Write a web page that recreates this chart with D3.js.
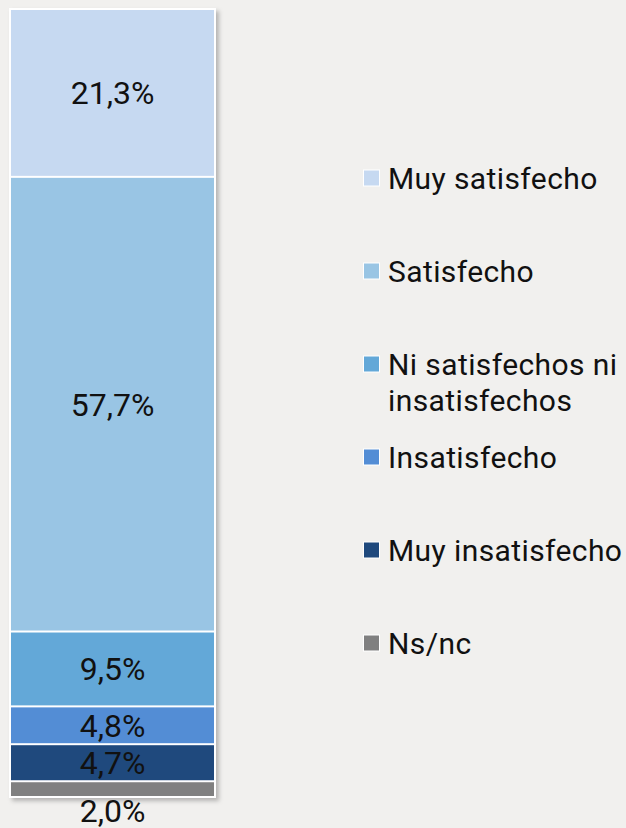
<!DOCTYPE html>
<html lang="es">
  <head>
    <meta charset="utf-8">
    <title>Satisfacción</title>
    <script src="https://d3js.org/d3.v7.min.js"></script>
    <style>
      body { margin: 0; background: #f1f0ee; }
      text { font-family: Roboto, "DejaVu Sans", sans-serif; fill: #111; }
    </style>
  </head>
  <body>
    <div id="container"></div>
    <script>
      const width = 626, height = 828;

      // bottom to top, as stacked in the bar
      const categories = ["Ns/nc", "Muy insatisfecho", "Insatisfecho", "Ni satisfechos ni insatisfechos", "Satisfecho", "Muy satisfecho"];
      const values = [2.0, 4.7, 4.8, 9.5, 57.7, 21.3];
      const labels = ["2,0%", "4,7%", "4,8%", "9,5%", "57,7%", "21,3%"];
      const colors = ["#808080", "#1f497d", "#538dd5", "#63a8d8", "#99c5e4", "#c6d9f1"];
      // legend reads top to bottom
      const legendLines = {
        "Muy satisfecho": ["Muy satisfecho"],
        "Satisfecho": ["Satisfecho"],
        "Ni satisfechos ni insatisfechos": ["Ni satisfechos ni", "insatisfechos"],
        "Insatisfecho": ["Insatisfecho"],
        "Muy insatisfecho": ["Muy insatisfecho"],
        "Ns/nc": ["Ns/nc"]
      };

      const bar = {left: 9, right: 216, top: 8, bottom: 798};

      let acc = 0;
      const segs = values.map((v, i) => {
        const s = {key: categories[i], v0: acc, v1: acc + v, label: labels[i], color: colors[i]};
        acc += v;
        return s;
      });

      const y = d3.scaleLinear()
        .domain([0, 100])
        .range([bar.bottom - 1, bar.top + 1]);
      const x = d3.scaleBand()
        .domain(["all"])
        .range([bar.left + 2, bar.right - 2])
        .padding(0);

      const legendY = d3.scalePoint()
        .domain(categories.slice().reverse())
        .range([178, 643]);

      const svg = d3.create("svg")
          .attr("width", width)
          .attr("height", height)
          .attr("viewBox", [0, 0, width, height]);

      const defs = svg.append("defs");
      defs.append("filter")
          .attr("id", "shadow")
          .attr("x", "-10%").attr("y", "-10%")
          .attr("width", "130%").attr("height", "120%")
        .append("feDropShadow")
          .attr("dx", 3).attr("dy", 3)
          .attr("stdDeviation", 2)
          .attr("flood-color", "#000")
          .attr("flood-opacity", 0.25);

      svg.append("rect")
          .attr("x", bar.left)
          .attr("y", bar.top)
          .attr("width", bar.right - bar.left)
          .attr("height", bar.bottom - bar.top)
          .attr("fill", "#fff")
          .attr("filter", "url(#shadow)");

      svg.append("g")
        .selectAll("rect")
        .data(segs)
        .join("rect")
          .attr("x", x("all"))
          .attr("width", x.bandwidth())
          .attr("y", d => y(d.v1) + 1)
          .attr("height", d => y(d.v0) - y(d.v1) - 2)
          .attr("fill", d => d.color);

      svg.append("g")
          .attr("text-anchor", "middle")
          .style("font-size", "32px")
        .selectAll("text")
        .data(segs)
        .join("text")
          .attr("x", x("all") + x.bandwidth() / 2)
          .attr("y", d => d.v1 - d.v0 < 3 ? y(d.v0) + 25 : (y(d.v0) + y(d.v1)) / 2 + 11.5)
          .text(d => d.label);

      const legend = svg.append("g")
        .selectAll("g")
        .data(segs)
        .join("g")
          .attr("transform", d => `translate(363,${legendY(d.key)})`);

      legend.append("rect")
          .attr("x", 0.5)
          .attr("y", -8)
          .attr("width", 16)
          .attr("height", 16)
          .attr("fill", d => d.color)
          .attr("stroke", "#fff")
          .attr("stroke-width", 1);

      legend.append("text")
          .style("font-size", "30px")
          .style("letter-spacing", "0.4px")
          .attr("x", 25)
          .attr("y", 10.5)
        .selectAll("tspan")
        .data(d => legendLines[d.key])
        .join("tspan")
          .attr("x", 25)
          .attr("dy", (d, i) => i === 0 ? 0 : 36)
          .text(d => d);

      d3.select("#container").append(() => svg.node());
    </script>
  </body>
</html>
